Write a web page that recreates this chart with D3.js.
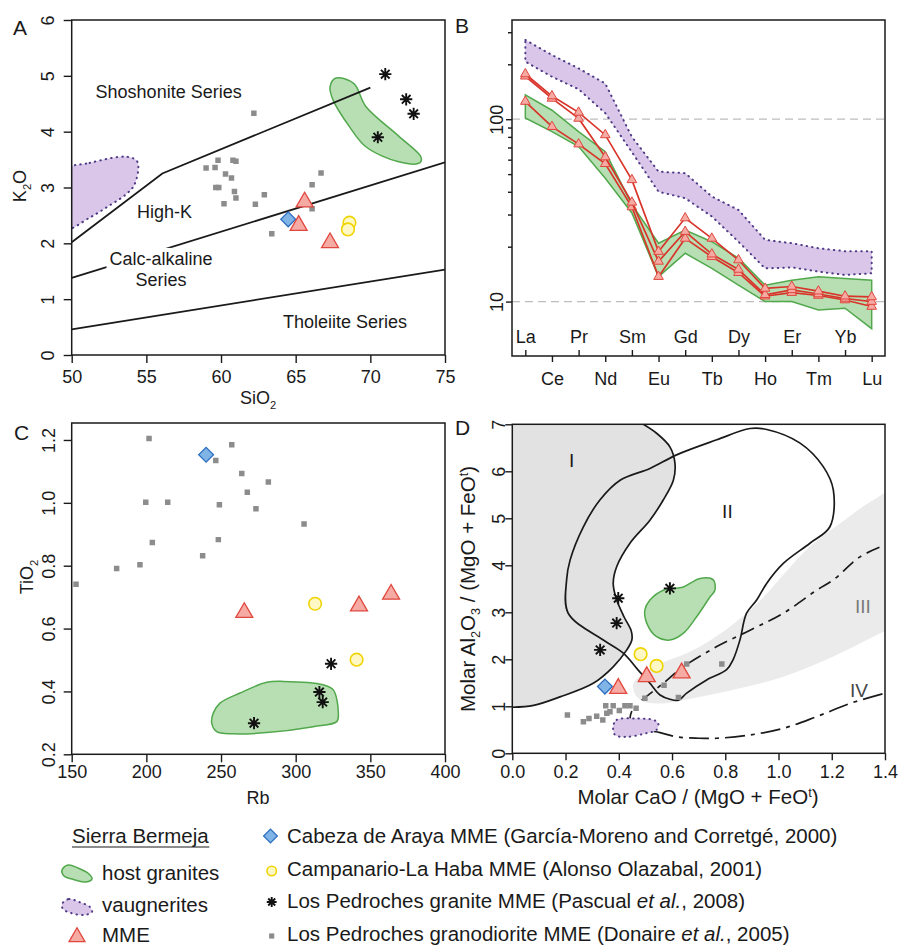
<!DOCTYPE html>
<html>
<head>
<meta charset="utf-8">
<script src="https://d3js.org/d3.v7.min.js"></script>
<style>
  body { margin: 0; background: #fff; }
  svg text { font-family: "Liberation Sans", Arial, Helvetica, sans-serif; }
</style>
</head>
<body>
<div id="fig"></div>
<script>
// ---------- panel A : K2O vs SiO2 ----------
var aShoshLine = [[50, 2.02], [56.07, 3.25], [70, 4.79]];
var aHighKLine = [[50, 1.38], [75, 3.45]];
var aThoLine = [[50, 0.46], [75, 1.53]];
var aHost = [[67.7,4.96],[68.9,4.86],[69.7,4.45],[71.9,3.92],[73.4,3.54],[73.3,3.44],[71.9,3.46],[69.7,3.73],[68.6,4.09],[67.5,4.57],[67.3,4.8]];
var aVaug = [[49.5,3.3],[51.2,3.44],[53.7,3.55],[54.4,3.46],[54.2,3.05],[53.6,2.87],[52.6,2.69],[51.2,2.46],[49.5,2.25]];
var aGranite = [[71.0,5.03],[72.4,4.58],[72.9,4.32],[70.5,3.9]];
var aGranodiorite = [[62.2,4.33],[59.8,3.49],[60.8,3.49],[61.0,3.47],[59.0,3.35],[59.6,3.36],[60.3,3.24],[60.7,3.17],[59.65,3.0],[59.85,3.0],[60.9,2.93],[61.0,2.81],[60.2,2.71],[62.3,2.7],[62.9,2.87],[66.7,3.26],[66.1,3.05],[66.1,2.62],[63.4,2.17]];
var aMME = [[65.6,2.74],[65.2,2.32],[67.3,2.01]];
var aCabeza = [[64.5,2.43]];
var aCampanario = [[68.6,2.37],[68.5,2.25]];

// ---------- panel B : REE patterns ----------
var ree = ["La","Ce","Pr","Nd","Sm","Eu","Gd","Tb","Dy","Ho","Er","Tm","Yb","Lu"];
var bVaugUpper = [272,225,190,157,80,51.6,50.6,37.7,31.8,21.8,20.9,19.6,18.9,18.9];
var bVaugLower = [207,171,146,108,66,40,36.9,29.3,21.3,15.2,15.4,14.6,14.0,14.3];
var bHostUpper = [136,112,85.5,66.4,34,20.9,24.7,21.3,17.3,12.3,13.1,13.7,13.4,13.1];
var bHostLower = [101.6,85.5,70.8,47.5,30.6,13.7,18.4,15.2,12.3,10.0,10.0,9.0,9.2,7.1];
var bMME1 = [177,134,109,82,46.5,18.8,28.7,22.2,16.9,11.8,12.1,11.4,10.7,10.6];
var bMME2 = [172,130,101,62,35,16.6,24.2,18.2,15.0,10.9,11.6,11.0,10.4,10.0];
var bMME3 = [125,91,73,57,33,13.7,22.2,17.6,14.4,10.7,11.2,10.8,10.2,9.4];

// ---------- panel C : TiO2 vs Rb ----------
var cHost = [[244.8,0.331],[249.3,0.363],[262.7,0.395],[280.6,0.429],[291.7,0.432],[318.5,0.421],[325.2,0.405],[328.6,0.331],[327.5,0.304],[311.8,0.288],[280.6,0.269],[258.2,0.265],[247.1,0.272],[243.8,0.299]];
var cGranite = [[323.7,0.488],[315.9,0.398],[318.1,0.366],[272.1,0.299]];
var cGranodiorite = [[152.9,0.741],[201.8,1.205],[257.2,1.185],[246.5,1.135],[263.9,1.093],[281.7,1.066],[267.6,1.034],[199.6,1.002],[214.3,1.002],[248.9,0.994],[273.4,0.981],[305.6,0.933],[204.0,0.874],[248.2,0.883],[237.7,0.832],[195.7,0.803],[180.1,0.791]];
var cMME = [[265.6,0.651],[342.4,0.672],[363.9,0.709]];
var cCabeza = [[240,1.153]];
var cCampanario = [[313,0.679],[340.8,0.501]];

// ---------- panel D : Al2O3/(MgO+FeOt) vs CaO/(MgO+FeOt) ----------
var dRegionI = [[0.492,7.0],[0.542,6.81],[0.592,6.52],[0.611,6.17],[0.605,5.81],[0.567,5.39],[0.517,4.96],[0.442,4.47],[0.392,3.97],[0.379,3.62],[0.39,3.3],[0.42,2.9],[0.447,2.6],[0.449,2.41],[0.43,2.2],[0.379,1.84],[0.304,1.49],[0.179,1.2],[0.08,1.02],[0.0,0.98]];
var dRegionII = [[0.624,1.13],[0.592,1.15],[0.555,1.24],[0.517,1.49],[0.473,1.77],[0.417,2.13],[0.342,2.41],[0.21,2.98],[0.204,3.69],[0.217,4.11],[0.267,4.82],[0.329,5.39],[0.405,5.81],[0.517,6.06],[0.617,6.35],[0.768,6.67],[0.893,6.91],[0.956,6.89],[1.081,6.6],[1.168,6.1],[1.206,5.6],[1.193,4.82],[1.118,4.47],[1.018,4.04],[0.956,3.62],[0.918,3.26],[0.88,2.98],[0.855,2.41],[0.83,2.0],[0.805,1.78],[0.73,1.56],[0.655,1.28]];
var dRegionIII = [[0.455,1.49],[0.492,1.70],[0.555,1.91],[0.655,2.13],[0.743,2.4],[0.83,2.75],[0.893,3.05],[0.956,3.4],[1.018,3.8],[1.118,4.4],[1.231,4.89],[1.356,5.39],[1.46,5.65],[1.46,2.75],[1.4,2.6],[1.206,2.06],[1.018,1.63],[0.83,1.35],[0.642,1.13],[0.555,1.06],[0.492,1.10],[0.462,1.25]];
var dLineIII = [[0.486,1.13],[0.567,1.49],[0.642,1.84],[0.768,2.27],[0.893,2.62],[1.018,2.98],[1.143,3.47],[1.206,3.69],[1.306,4.18],[1.4,4.43]];
var dLineIV = [[0.449,0.9],[0.443,0.74],[0.46,0.6],[0.5,0.5],[0.555,0.44],[0.617,0.35],[0.7,0.32],[0.768,0.32],[0.893,0.39],[1.018,0.53],[1.143,0.78],[1.268,1.06],[1.4,1.28]];
var dHost = [[0.642,3.54],[0.705,3.72],[0.755,3.69],[0.761,3.47],[0.743,3.33],[0.693,2.91],[0.642,2.55],[0.592,2.41],[0.542,2.48],[0.505,2.77],[0.498,3.05],[0.517,3.26],[0.567,3.47]];
var dVaug = [[0.379,0.57],[0.392,0.71],[0.467,0.74],[0.53,0.71],[0.548,0.64],[0.542,0.5],[0.505,0.43],[0.43,0.35],[0.386,0.39]];
var dGranite = [[0.592,3.51],[0.398,3.30],[0.392,2.77],[0.33,2.2]];
var dGranodiorite = [[0.207,0.815],[0.267,0.67],[0.288,0.74],[0.317,0.79],[0.34,0.71],[0.355,0.85],[0.367,0.885],[0.351,1.01],[0.379,1.01],[0.402,0.91],[0.423,1.01],[0.442,1.01],[0.465,0.96],[0.498,1.17],[0.57,1.45],[0.655,1.90],[0.787,1.90],[0.624,1.19]];
var dMME = [[0.505,1.63],[0.636,1.71],[0.398,1.38]];
var dCabeza = [[0.348,1.42]];
var dCampanario = [[0.482,2.11],[0.542,1.86]];

// ---------- styles ----------
var GREEN_FILL = "#b8dfb3", GREEN_LINE = "#52a84c";
var PURPLE_FILL = "#d9c6e9", PURPLE_LINE = "#4f3a86";
var TRI_FILL = "#f5aaa4", TRI_LINE = "#e0473d";
var DIA_FILL = "#80b3e6", DIA_LINE = "#2f6fbf";
var CIR_FILL = "#fff8c4", CIR_LINE = "#f0d400";
var SQ_FILL = "#8c8c8c";
var INK = "#1a1a1a";

var svg = d3.select("#fig").append("svg").attr("width", 900).attr("height", 946);

// 8-armed asterisk (R pch 8)
var symbolStar8 = {
  draw: function (ctx, size) {
    var r = Math.sqrt(size) / 2;
    for (var i = 0; i < 4; i++) {
      var a = i * Math.PI / 4;
      ctx.moveTo(r * Math.cos(a), r * Math.sin(a));
      ctx.lineTo(-r * Math.cos(a), -r * Math.sin(a));
    }
  }
};

var xA = d3.scaleLinear().domain([50, 75]).range([71.7, 445]);
var yA = d3.scaleLinear().domain([0, 6]).range([355, 20]);
var xB = d3.scalePoint().domain(ree).range([512, 885]).padding(0.5);
var yB = d3.scaleLog().domain([5.03, 350]).range([356, 20]);
var xC = d3.scaleLinear().domain([150, 400]).range([71.7, 445]);
var yC = d3.scaleLinear().domain([0.2, 1.254]).range([754.3, 423]);
var xD = d3.scaleLinear().domain([0, 1.4]).range([512.3, 885]);
var yD = d3.scaleLinear().domain([0, 7]).range([753.3, 424.3]);

function clipFor(id, x, y) {
  svg.append("clipPath").attr("id", id).append("rect")
    .attr("x", x.range()[0]).attr("y", y.range()[1])
    .attr("width", x.range()[1] - x.range()[0]).attr("height", y.range()[0] - y.range()[1]);
  return svg.append("g").attr("clip-path", "url(#" + id + ")");
}

function box(x, y) {
  svg.append("rect")
    .attr("x", x.range()[0]).attr("y", y.range()[1])
    .attr("width", x.range()[1] - x.range()[0]).attr("height", y.range()[0] - y.range()[1])
    .attr("fill", "none").attr("stroke", INK).attr("stroke-width", 1.5);
}

function styleAxis(g) {
  g.select(".domain").remove();
  g.selectAll(".tick line").attr("stroke", INK).attr("stroke-width", 1.4);
  g.selectAll(".tick text").attr("font-size", 18).style("fill", INK);
}

function axes(x, y, o) {
  var gx = svg.append("g").attr("transform", "translate(0," + y.range()[0] + ")")
    .call(d3.axisBottom(x).tickValues(o.xTicks).tickFormat(o.xFmt || null).tickSize(o.tick));
  styleAxis(gx);
  gx.selectAll("text").attr("y", o.xLab).attr("dy", 0);
  var gy = svg.append("g").attr("transform", "translate(" + x.range()[0] + ",0)")
    .call(d3.axisLeft(y).tickValues(o.yTicks).tickFormat(o.yFmt || null).tickSize(o.tick));
  styleAxis(gy);
  gy.selectAll("text").attr("x", 0).attr("y", -o.yLab).attr("dy", 0)
    .attr("text-anchor", "middle").attr("transform", "rotate(-90)");
}

// text with sub/superscripts: parts = [[text, "sub"|"sup"|"it"|undefined], ...]
function rich(parent, parts, size) {
  var t = parent.append("text").attr("font-size", size).style("fill", INK);
  var shift = 0;
  parts.forEach(function (p) {
    var ts = t.append("tspan").text(p[0]);
    var want = p[1] === "sub" ? 5 : p[1] === "sup" ? -7 : 0;
    if (want !== shift) { ts.attr("dy", want - shift); shift = want; }
    if (p[1] === "sub" || p[1] === "sup") ts.attr("font-size", size * 0.62);
    if (p[1] === "it") ts.attr("font-style", "italic");
  });
  return t;
}

function points(g, data, x, y, kind, scale) {
  var k = scale || 1;
  var sym = {
    tri: d3.symbol(d3.symbolTriangle, 125 * k),
    dia: d3.symbol(d3.symbolSquare, 110 * k),
    sq: d3.symbol(d3.symbolSquare, 30 * k),
    star: d3.symbol(symbolStar8, 150 * k)
  };
  if (kind === "cir") {
    g.selectAll(null).data(data).enter().append("circle")
      .attr("cx", function (d) { return x(d[0]); }).attr("cy", function (d) { return y(d[1]); })
      .attr("r", 6.3 * k).attr("fill", CIR_FILL).attr("stroke", CIR_LINE).attr("stroke-width", 1.6);
    return;
  }
  var p = g.selectAll(null).data(data).enter().append("path")
    .attr("d", sym[kind])
    .attr("transform", function (d) {
      return "translate(" + x(d[0]) + "," + y(d[1]) + ")" + (kind === "dia" ? " rotate(45)" : "");
    });
  if (kind === "tri") p.attr("fill", TRI_FILL).attr("stroke", TRI_LINE).attr("stroke-width", 1.3);
  if (kind === "dia") p.attr("fill", DIA_FILL).attr("stroke", DIA_LINE).attr("stroke-width", 1.3);
  if (kind === "sq") p.attr("fill", SQ_FILL);
  if (kind === "star") p.attr("fill", "none").attr("stroke", "#111").attr("stroke-width", 1.9);
}

function blob(g, data, x, y, kind) {
  var line = d3.line().x(function (d) { return x(d[0]); }).y(function (d) { return y(d[1]); })
    .curve(d3.curveCatmullRomClosed.alpha(0.5));
  var p = g.append("path").attr("d", line(data));
  if (kind === "host") p.attr("fill", GREEN_FILL).attr("stroke", GREEN_LINE).attr("stroke-width", 1.5);
  else p.attr("fill", PURPLE_FILL).attr("stroke", PURPLE_LINE).attr("stroke-width", 2)
    .attr("stroke-dasharray", "0.5,5").attr("stroke-linecap", "round");
}

function panelLetter(txt, x, y) {
  svg.append("text").attr("x", x).attr("y", y).attr("font-size", 21).style("fill", INK).text(txt);
}

// ================= A =================
(function () {
  var g = clipFor("clipA", xA, yA);
  var line = d3.line().x(function (d) { return xA(d[0]); }).y(function (d) { return yA(d[1]); });
  blob(g, aVaug, xA, yA, "vaug");
  blob(g, aHost, xA, yA, "host");
  [aShoshLine, aHighKLine, aThoLine].forEach(function (l) {
    g.append("path").attr("d", line(l)).attr("fill", "none").attr("stroke", INK).attr("stroke-width", 1.8);
  });
  var labels = [["Shoshonite Series", 51.6, 4.6, "start"], ["High-K", 54.38, 2.455, "start"],
                ["Calc-alkaline", 55.98, 1.613, "middle"], ["Series", 55.98, 1.237, "middle"],
                ["Tholeiite Series", 64.15, 0.484, "start"]];
  labels.forEach(function (l) {
    var t = g.append("text").attr("x", xA(l[1])).attr("y", yA(l[2])).attr("text-anchor", l[3])
      .attr("font-size", 18).style("fill", INK).text(l[0]);
    if (l[0] === "Calc-alkaline") {
      var b = t.node().getBBox();
      g.insert("rect", function () { return t.node(); })
        .attr("x", b.x - 3).attr("y", b.y - 1).attr("width", b.width + 6).attr("height", b.height)
        .attr("fill", "#fff");
    }
  });
  points(g, aGranodiorite, xA, yA, "sq");
  points(g, aCabeza, xA, yA, "dia");
  points(g, aMME, xA, yA, "tri");
  points(g, aCampanario, xA, yA, "cir");
  points(g, aGranite, xA, yA, "star");
  box(xA, yA);
  axes(xA, yA, { xTicks: [50, 55, 60, 65, 70, 75], yTicks: [0, 1, 2, 3, 4, 5, 6],
                 yFmt: d3.format("d"), tick: 8, xLab: 28, yLab: 17.7 });
  rich(svg, [["Si"], ["O"], ["2", "sub"]], 18).attr("x", 258).attr("y", 404).attr("text-anchor", "middle");
  rich(svg, [["K"], ["2", "sub"], ["O"]], 18).attr("text-anchor", "middle")
    .attr("transform", "translate(26,186) rotate(-90)");
  panelLetter("A", 13, 35);
})();

// ================= B =================
(function () {
  var g = clipFor("clipB", xB, yB);
  var px = function (i) { return xB(ree[i]); };
  var band = function (up, lo) {
    var pts = up.map(function (v, i) { return [px(i), yB(v)]; })
      .concat(lo.map(function (v, i) { return [px(i), yB(v)]; }).reverse());
    return d3.line()(pts) + "Z";
  };
  [100, 10].forEach(function (v) {
    g.append("line").attr("x1", xB.range()[0]).attr("x2", xB.range()[1])
      .attr("y1", yB(v)).attr("y2", yB(v))
      .attr("stroke", "#bdbdbd").attr("stroke-width", 1.3).attr("stroke-dasharray", "8,5");
  });
  g.append("path").attr("d", band(bVaugUpper, bVaugLower)).attr("fill", PURPLE_FILL)
    .attr("stroke", PURPLE_LINE).attr("stroke-width", 2).attr("stroke-dasharray", "0.5,5")
    .attr("stroke-linecap", "round");
  g.append("path").attr("d", band(bHostUpper, bHostLower)).attr("fill", GREEN_FILL)
    .attr("stroke", GREEN_LINE).attr("stroke-width", 1.5);
  var line = d3.line().x(function (d, i) { return px(i); }).y(function (d) { return yB(d); });
  [bMME3, bMME2, bMME1].forEach(function (s) {
    g.append("path").attr("d", line(s)).attr("fill", "none").attr("stroke", "#d8342a").attr("stroke-width", 1.7);
    g.selectAll(null).data(s).enter().append("path")
      .attr("d", d3.symbol(d3.symbolTriangle, 40))
      .attr("transform", function (d, i) { return "translate(" + px(i) + "," + yB(d) + ")"; })
      .attr("fill", TRI_FILL).attr("stroke", TRI_LINE).attr("stroke-width", 1);
  });
  box(xB, yB);
  // y axis: major and minor ticks
  var gy = svg.append("g").attr("transform", "translate(" + xB.range()[0] + ",0)")
    .call(d3.axisLeft(yB).tickValues([10, 100]).tickFormat(d3.format("d")).tickSize(6));
  styleAxis(gy);
  gy.selectAll("text").attr("x", 0).attr("y", -9.3).attr("dy", 0)
    .attr("text-anchor", "middle").attr("transform", "rotate(-90)");
  var gm = svg.append("g").attr("transform", "translate(" + xB.range()[0] + ",0)")
    .call(d3.axisLeft(yB).tickValues([20, 30, 40, 50, 60, 70, 80, 90, 200, 300]).tickFormat("").tickSize(4));
  styleAxis(gm);
  // x axis: alternate labels inside / outside
  var odd = ree.filter(function (d, i) { return i % 2 === 0; });
  var even = ree.filter(function (d, i) { return i % 2 === 1; });
  var gi = svg.append("g").attr("transform", "translate(0," + yB.range()[0] + ")")
    .call(d3.axisBottom(xB).tickValues(odd).tickSize(-6));
  styleAxis(gi);
  gi.selectAll("text").attr("y", -13).attr("dy", 0);
  var go = svg.append("g").attr("transform", "translate(0," + yB.range()[0] + ")")
    .call(d3.axisBottom(xB).tickValues(even).tickSize(6));
  styleAxis(go);
  go.selectAll("text").attr("y", 29).attr("dy", 0);
  panelLetter("B", 455, 33);
})();

// ================= C =================
(function () {
  var g = clipFor("clipC", xC, yC);
  blob(g, cHost, xC, yC, "host");
  points(g, cGranodiorite, xC, yC, "sq");
  points(g, cCabeza, xC, yC, "dia");
  points(g, cMME, xC, yC, "tri");
  points(g, cCampanario, xC, yC, "cir");
  points(g, cGranite, xC, yC, "star");
  box(xC, yC);
  axes(xC, yC, { xTicks: [150, 200, 250, 300, 350, 400], yTicks: [0.2, 0.4, 0.6, 0.8, 1.0, 1.2],
                 yFmt: d3.format(".1f"), tick: 8, xLab: 24, yLab: 16.7 });
  svg.append("text").attr("x", 258).attr("y", 804).attr("text-anchor", "middle")
    .attr("font-size", 18).style("fill", INK).text("Rb");
  rich(svg, [["Ti"], ["O"], ["2", "sub"]], 18).attr("text-anchor", "middle")
    .attr("transform", "translate(33,577) rotate(-90)");
  panelLetter("C", 14, 440);
})();

// ================= D =================
(function () {
  var g = clipFor("clipD", xD, yD);
  var X = function (d) { return xD(d[0]); }, Y = function (d) { return yD(d[1]); };
  var smooth = d3.line().x(X).y(Y).curve(d3.curveCatmullRom.alpha(0.5));
  var closed = d3.line().x(X).y(Y).curve(d3.curveCatmullRomClosed.alpha(0.5));
  // region I fill (closed against the left and top axes)
  g.append("path")
    .attr("d", smooth(dRegionI) + "L" + (xD(0) - 5) + "," + yD(0.98) + "L" + (xD(0) - 5) + "," + (yD(7) - 5) +
      "L" + xD(0.48) + "," + (yD(7) - 5) + "Z")
    .attr("fill", "#e2e2e2");
  g.append("path").attr("d", closed(dRegionIII)).attr("fill", "#ebebeb");
  g.append("path").attr("d", smooth(dRegionI)).attr("fill", "none").attr("stroke", INK).attr("stroke-width", 1.7);
  g.append("path").attr("d", closed(dRegionII)).attr("fill", "none").attr("stroke", INK).attr("stroke-width", 1.7);
  g.append("path").attr("d", smooth(dLineIII)).attr("fill", "none").attr("stroke", INK)
    .attr("stroke-width", 1.7).attr("stroke-dasharray", "14,6,4,6");
  g.append("path").attr("d", smooth(dLineIV)).attr("fill", "none").attr("stroke", INK)
    .attr("stroke-width", 1.7).attr("stroke-dasharray", "20,6,4,6");
  blob(g, dHost, xD, yD, "host");
  blob(g, dVaug, xD, yD, "vaug");
  [["I", 0.223, 6.09, INK], ["II", 0.808, 5.0, INK], ["III", 1.317, 2.98, "#7a7a7a"], ["IV", 1.302, 1.2, "#444"]]
    .forEach(function (l) {
      g.append("text").attr("x", xD(l[1])).attr("y", yD(l[2])).attr("text-anchor", "middle")
        .attr("font-size", 19).style("fill", l[3]).text(l[0]);
    });
  points(g, dGranodiorite, xD, yD, "sq");
  points(g, dCabeza, xD, yD, "dia");
  points(g, dMME, xD, yD, "tri");
  points(g, dCampanario, xD, yD, "cir");
  points(g, dGranite, xD, yD, "star");
  box(xD, yD);
  axes(xD, yD, { xTicks: [0, 0.2, 0.4, 0.6, 0.8, 1.0, 1.2, 1.4], yTicks: [0, 1, 2, 3, 4, 5, 6, 7],
                 xFmt: d3.format(".1f"), yFmt: d3.format("d"), tick: 7, xLab: 24.7, yLab: 7.5 });
  rich(svg, [["Molar CaO / (MgO + FeO"], ["t", "sup"], [")"]], 20.5)
    .attr("x", 698).attr("y", 804).attr("text-anchor", "middle");
  rich(svg, [["Molar Al"], ["2", "sub"], ["O"], ["3", "sub"], [" / (MgO + FeO"], ["t", "sup"], [")"]], 20.5)
    .attr("text-anchor", "middle").attr("transform", "translate(475,589) rotate(-90)");
  panelLetter("D", 455, 435);
})();

// ================= legend =================
var legendLeft = ["host granites", "vaugnerites", "MME"];
var legendRight = [
  [["Cabeza de Araya MME (García-Moreno and Corretgé, 2000)"]],
  [["Campanario-La Haba MME (Alonso Olazabal, 2001)"]],
  [["Los Pedroches granite MME (Pascual "], ["et al.", "it"], [", 2008)"]],
  [["Los Pedroches granodiorite MME (Donaire "], ["et al.", "it"], [", 2005)"]]
];
var legendHostIcon = [[0, 3], [6, -2], [16, 1], [27, 7], [30, 12], [24, 15], [10, 12], [2, 9]];
var legendVaugIcon = [[0, 2], [7, -3], [17, 0], [28, 5], [30, 10], [22, 13], [9, 11], [1, 7]];
(function () {
  var FS = 20.5;
  var lg = svg.append("g");
  var t = lg.append("text").attr("x", 72).attr("y", 843).attr("font-size", FS).style("fill", INK).text("Sierra Bermeja");
  var b = t.node().getBBox();
  lg.append("line").attr("x1", b.x).attr("x2", b.x + b.width).attr("y1", 847).attr("y2", 847)
    .attr("stroke", INK).attr("stroke-width", 1.2);
  var rowsL = [880, 912, 942];
  var ix = d3.scaleLinear().domain([0, 1]).range([62, 63]);
  var iy1 = d3.scaleLinear().domain([0, 1]).range([867, 868]);
  var iy2 = d3.scaleLinear().domain([0, 1]).range([902, 903]);
  blob(lg, legendHostIcon, ix, iy1, "host");
  blob(lg, legendVaugIcon, ix, iy2, "vaug");
  lg.append("path").attr("d", d3.symbol(d3.symbolTriangle, 110)())
    .attr("transform", "translate(77,937)").attr("fill", TRI_FILL).attr("stroke", TRI_LINE).attr("stroke-width", 1.3);
  legendLeft.forEach(function (s, i) {
    lg.append("text").attr("x", 102).attr("y", rowsL[i]).attr("font-size", FS).style("fill", INK).text(s);
  });
  var rowsR = [843, 876, 908, 941];
  var ic = [[270.5, 836], [271.7, 871], [271.7, 902], [271.7, 936]];
  var ixr = d3.scaleLinear().domain([0, 1]).range([0, 1]);
  points(lg, [ic[0]], ixr, ixr, "dia", 0.85);
  points(lg, [ic[1]], ixr, ixr, "cir", 0.75);
  points(lg, [ic[2]], ixr, ixr, "star", 0.65);
  points(lg, [ic[3]], ixr, ixr, "sq", 0.9);
  legendRight.forEach(function (parts, i) {
    rich(lg, parts, FS).attr("x", 287).attr("y", rowsR[i]);
  });
})();
</script>
</body>
</html>
